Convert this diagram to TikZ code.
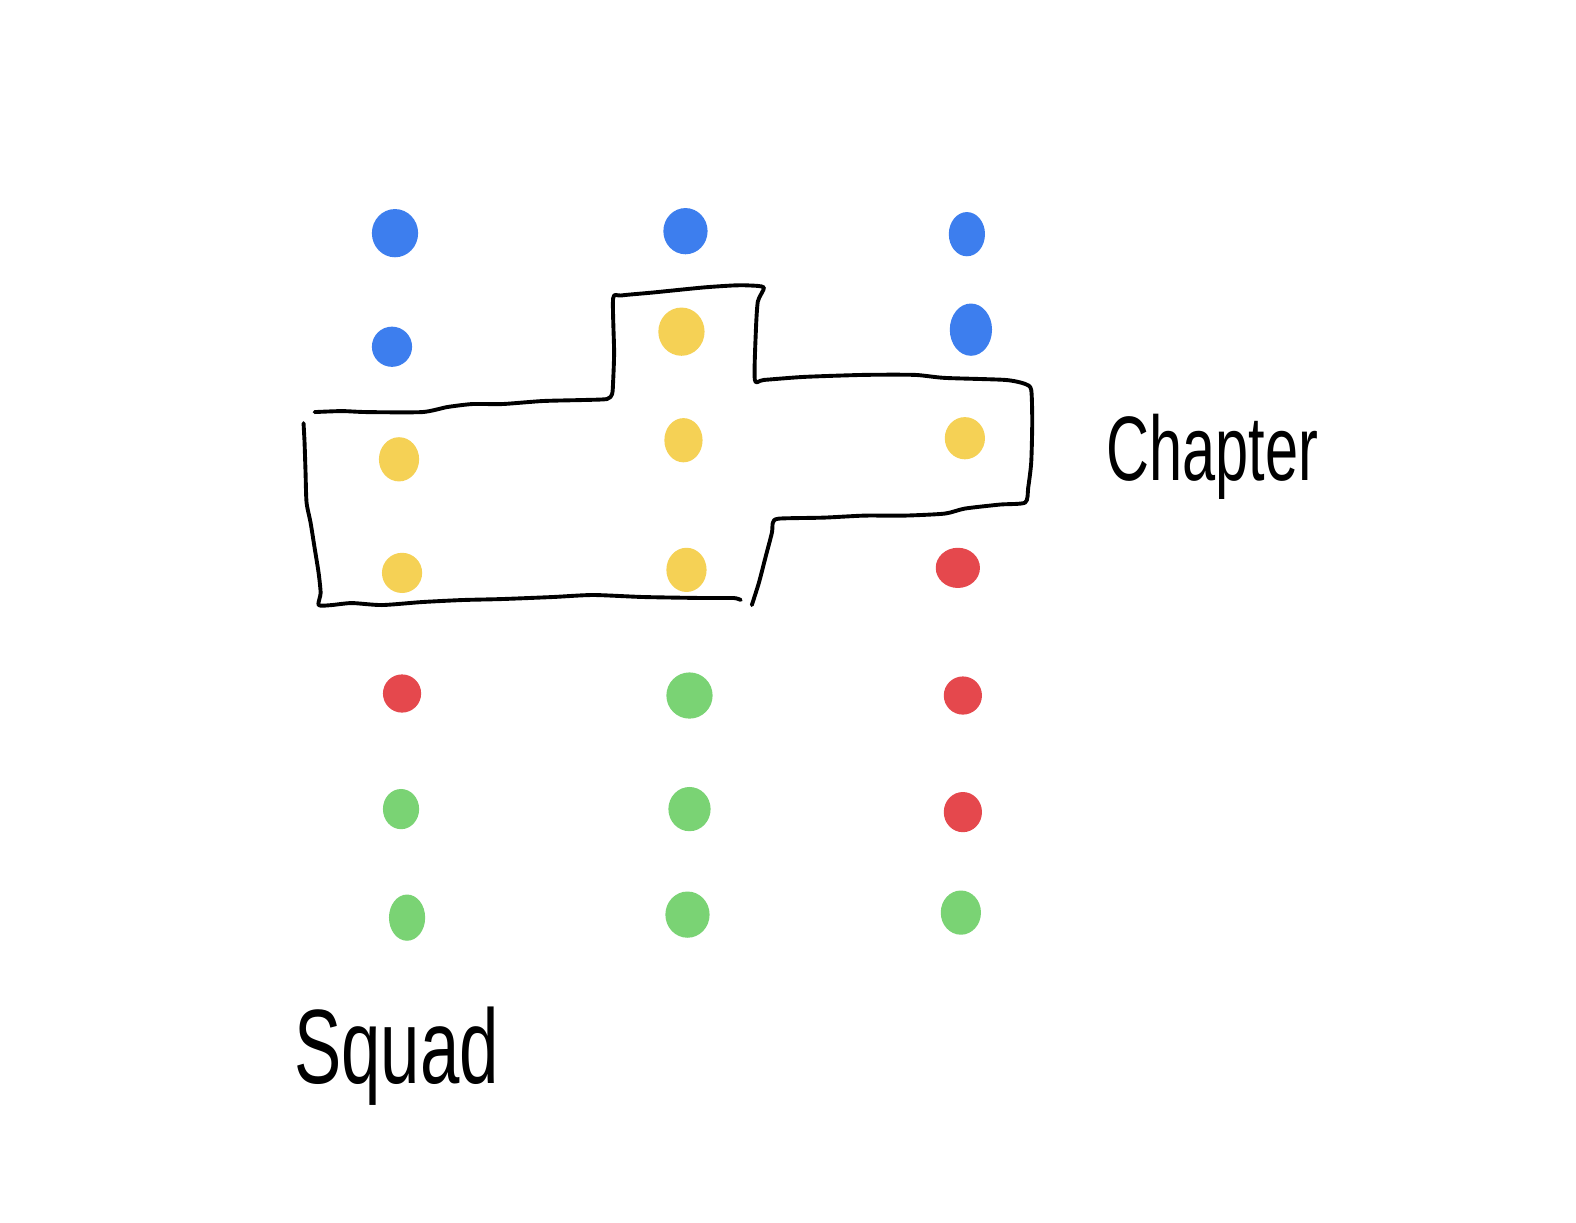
\documentclass[tikz,border=0pt]{standalone}
\usepackage{fontspec}
\usepackage{graphicx}
\setmainfont{Liberation Sans}
\definecolor{dblue}{HTML}{3D7EEE}
\definecolor{dyellow}{HTML}{F5D155}
\definecolor{dred}{HTML}{E5484D}
\definecolor{dgreen}{HTML}{7AD374}
\tikzset{
  bdot/.style={fill=dblue},
  ydot/.style={fill=dyellow},
  rdot/.style={fill=dred},
  gdot/.style={fill=dgreen},
  outline/.style={draw=black, line width=1.1pt, line cap=round, line join=round},
  hand/.style={inner sep=0pt, text=black}
}
\begin{document}
\begin{tikzpicture}[x=0.01cm,y=-0.01cm]
\useasboundingbox[fill=white] (0,0) rectangle (1568,1216);
% column 1
\fill[bdot] (393,232) ellipse [x radius=23, y radius=24];
\fill[bdot] (390,345) ellipse [x radius=20, y radius=20];
\fill[ydot] (397,457) ellipse [x radius=20, y radius=22];
\fill[ydot] (400,570) ellipse [x radius=20, y radius=20];
\fill[rdot] (400,690) ellipse [x radius=19, y radius=19];
\fill[gdot] (399,805) ellipse [x radius=18, y radius=20];
\fill[gdot] (405,913) ellipse [x radius=18, y radius=23];
% column 2
\fill[bdot] (682,230) ellipse [x radius=22, y radius=23];
\fill[ydot] (678,330) ellipse [x radius=23, y radius=24];
\fill[ydot] (680,438) ellipse [x radius=19, y radius=22];
\fill[ydot] (683,567) ellipse [x radius=20, y radius=22];
\fill[gdot] (686,692) ellipse [x radius=23, y radius=23];
\fill[gdot] (686,805) ellipse [x radius=21, y radius=22];
\fill[gdot] (684,910) ellipse [x radius=22, y radius=23];
% column 3
\fill[bdot] (962,233) ellipse [x radius=18, y radius=22];
\fill[bdot] (966,328) ellipse [x radius=21, y radius=26];
\fill[ydot] (960,436) ellipse [x radius=20, y radius=21];
\fill[rdot] (953,565) ellipse [x radius=22, y radius=20];
\fill[rdot] (958,692) ellipse [x radius=19, y radius=19];
\fill[rdot] (958,808) ellipse [x radius=19, y radius=20];
\fill[gdot] (956,908) ellipse [x radius=20, y radius=22];
% outline, upper part
\draw[outline] plot[smooth, tension=0.4] coordinates {
 (313,410) (340,409) (365,410) (420,410) (445,405) (470,402) (500,402)
 (540,399) (580,398) (604,397) (609,392) (610,380) (611,350) (610,297)
 (618,294) (650,291) (700,286) (730,284) (745,284) (760,286) (754,300)
 (752,330) (751,378) (760,378) (800,375) (860,373) (910,373) (940,376)
 (1000,378) (1020,382) (1026,388) (1027,420) (1026,460) (1023,485)
 (1020,500) (995,502) (960,506) (940,511) (900,513) (860,513) (820,515)
 (775,516) (769,520) (768,530) (762,553) (755,580) (748,602)};
% outline, lower-left part
\draw[outline] plot[smooth, tension=0.4] coordinates {
 (302,421) (303,440) (304,470) (305,500) (309,520) (313,545) (317,570)
 (319,590) (317,602) (330,602) (350,600) (380,602) (420,599) (460,597)
 (500,596) (550,594) (590,592) (640,594) (700,595) (730,595) (737,597)};
% labels
\node[hand, anchor=base west, font=\fontsize{25.9pt}{26pt}\selectfont] (chapter) at (1100,478) {\scalebox{0.65}[1]{Chapter}};
\node[hand, anchor=base west, font=\fontsize{29.9pt}{30pt}\selectfont] (squad) at (292,1078) {\scalebox{0.67}[1]{Squad}};
\end{tikzpicture}
\end{document}
